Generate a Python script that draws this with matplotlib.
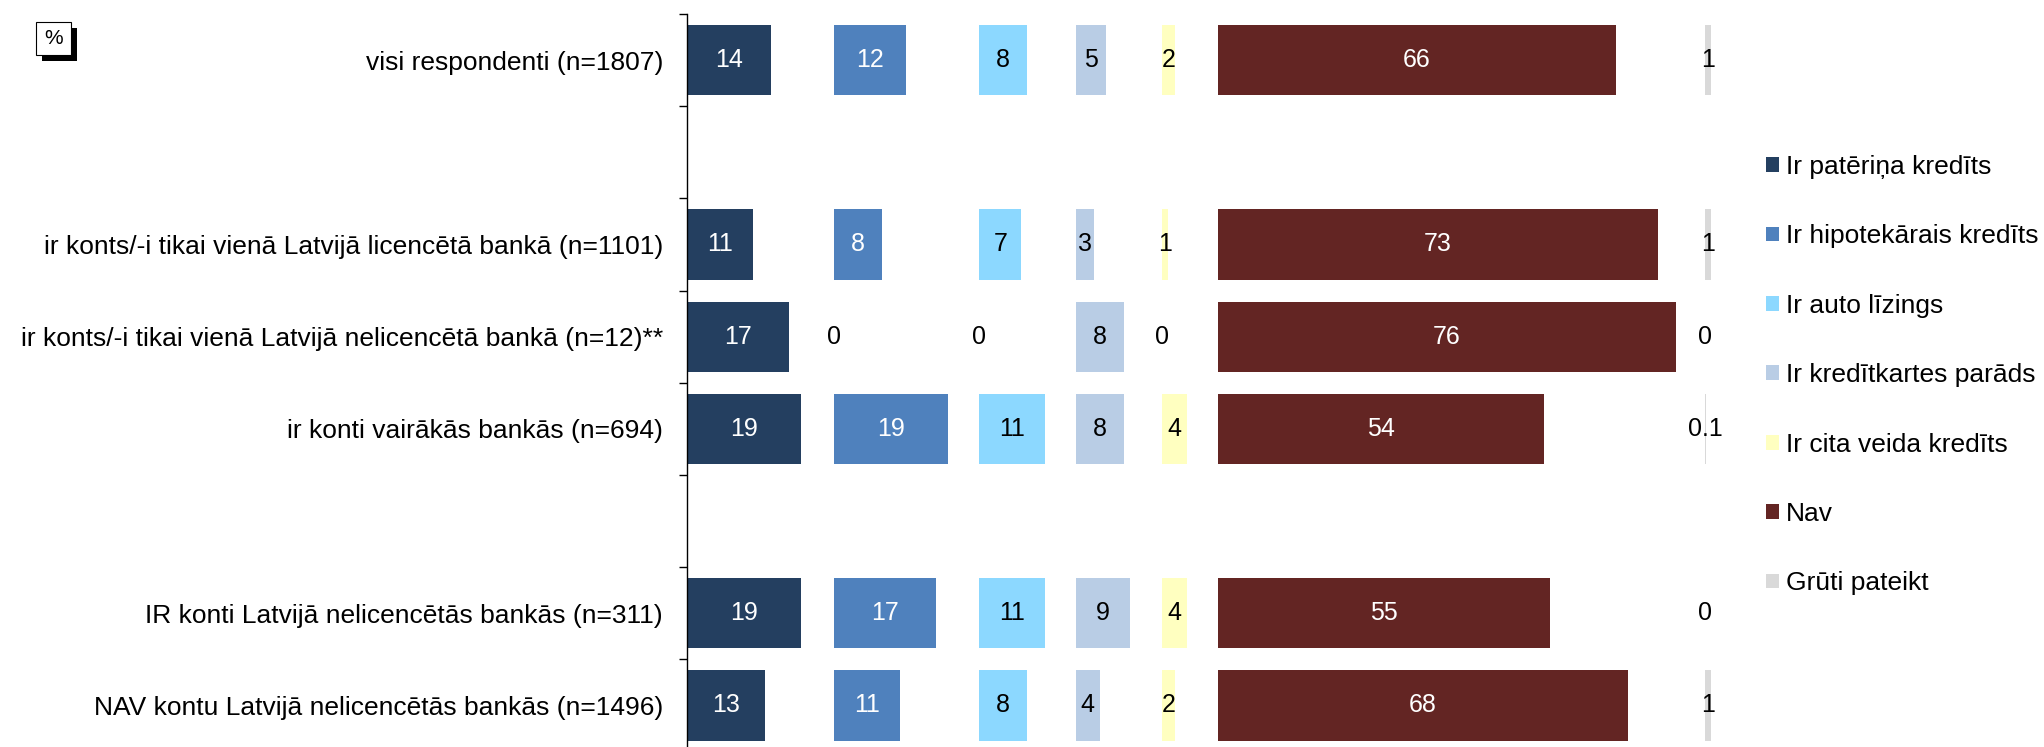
import matplotlib
matplotlib.use("Agg")
import matplotlib.pyplot as plt
from matplotlib.patches import Rectangle
import numpy as np

# Respondent groups (rows) and their slot positions on the category axis
categories = [
    "visi respondenti (n=1807)",
    "ir konts/-i tikai vienā Latvijā licencētā bankā (n=1101)",
    "ir konts/-i tikai vienā Latvijā nelicencētā bankā (n=12)**",
    "ir konti vairākās bankās (n=694)",
    "IR konti Latvijā nelicencētās bankās (n=311)",
    "NAV kontu Latvijā nelicencētās bankās (n=1496)",
]
row_slots = [0, 2, 3, 4, 6, 7]

series_names = [
    "Ir patēriņa kredīts",
    "Ir hipotekārais kredīts",
    "Ir auto līzings",
    "Ir kredītkartes parāds",
    "Ir cita veida kredīts",
    "Nav",
    "Grūti pateikt",
]
pateriņa_kredits = [14, 11, 17, 19, 19, 13]
hipotekarais_kredits = [12, 8, 0, 19, 17, 11]
auto_lizings = [8, 7, 0, 11, 11, 8]
kreditkartes_parads = [5, 3, 8, 8, 9, 4]
cita_veida_kredits = [2, 1, 0, 4, 4, 2]
nav = [66, 73, 76, 54, 55, 68]
gruti_pateikt = [1, 1, 0, 0.1, 0, 1]

series_values = [pateriņa_kredits, hipotekarais_kredits, auto_lizings,
                 kreditkartes_parads, cita_veida_kredits, nav, gruti_pateikt]

# Each answer gets its own column along the x axis
column_starts = [0, 24.4, 48.5, 64.5, 78.9, 88.1, 168.9]
colors = ["#243F60", "#4F81BD", "#8CD8FF", "#B9CDE5", "#FFFFC0", "#632523", "#D9D9D9"]
white_text = [True, True, False, False, False, True, False]

plt.rcParams["font.family"] = ["Liberation Sans", "DejaVu Sans"]

W, H = 2044, 747
fig = plt.figure(figsize=(W / 100, H / 100), dpi=100)

top_px = 14.0
slot_px = 92.2
n_slots = 8
unit_px = 6.03
x_max = 175
left_px = 686.7
ax = fig.add_axes([left_px / W,
                   1 - (top_px + n_slots * slot_px) / H,
                   x_max * unit_px / W,
                   n_slots * slot_px / H])

handles = []
for name, vals, start, col, wt in zip(series_names, series_values,
                                       column_starts, colors, white_text):
    bars = ax.barh(row_slots, vals, left=start, height=0.76, color=col,
                   edgecolor="none", label=name)
    handles.append(bars)
    labels = ax.bar_label(bars, labels=[f"{v:g}" for v in vals],
                          label_type="center", fontsize=18)
    for txt, v in zip(labels, vals):
        txt.set_color("white" if (wt and v > 0) else "black")

ax.set_xlim(0, x_max)
ax.set_ylim(n_slots - 0.5, -0.5)

for side in ["top", "right", "bottom"]:
    ax.spines[side].set_visible(False)
ax.spines["left"].set_linewidth(1.0)
ax.spines["left"].set_color("black")
ax.xaxis.set_visible(False)

ax.set_yticks(row_slots)
ax.set_yticklabels(categories, fontsize=19)
ax.tick_params(axis="y", which="major", length=0, pad=17)
ax.set_yticks(np.arange(-0.5, n_slots, 1), minor=True)
ax.tick_params(axis="y", which="minor", length=5.5, width=1.0, color="black",
               direction="out")

fig.legend(handles=handles, labels=series_names, loc="upper left",
           bbox_to_anchor=(1766 / W, 1 - 155 / H), frameon=False,
           fontsize=19, handlelength=0.49, handleheight=0.49,
           handletextpad=0.25, labelspacing=1.72, borderpad=0,
           borderaxespad=0)

# "%" unit box with a drop shadow
def px_rect(x0, y0, x1, y1, **kw):
    return Rectangle((x0 / W, 1 - y1 / H), (x1 - x0) / W, (y1 - y0) / H,
                     transform=fig.transFigure, **kw)

fig.patches.append(px_rect(41.7, 27.7, 76.7, 60.7, facecolor="black",
                           edgecolor="none", zorder=1))
fig.patches.append(px_rect(35.7, 21.7, 70.7, 54.7, facecolor="white",
                           edgecolor="black", linewidth=0.8, zorder=2))
fig.text(53.2 / W, 1 - 38.5 / H, "%", ha="center", va="center",
         fontsize=15, zorder=3)

fig.savefig("out.png", dpi=100, facecolor="white")
